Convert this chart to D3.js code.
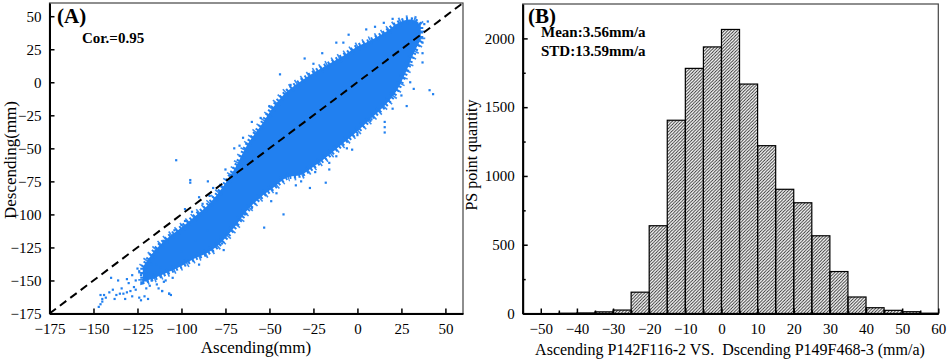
<!DOCTYPE html>
<html>
<head>
<meta charset="utf-8">
<script src="https://cdn.jsdelivr.net/npm/d3@7"></script>
<style>
  body { margin: 0; background: #fff; }
  svg { display: block; font-family: "Liberation Serif", "Times New Roman", serif; }
  .label { white-space: pre; }
</style>
</head>
<body>
<svg id="chart" width="948" height="359"></svg>
<script>
// ---- panel A data ----
const scatterTicks = [-175, -150, -125, -100, -75, -50, -25, 0, 25, 50];

// dense core of the point cloud: ascending value, lower / upper descending bound
const coreAsc   = [-122, -115, -108, -100, -92, -85, -78, -70, -62, -55, -48, -40, -32, -24, -16, -8, 0, 8, 16, 22, 27, 32, 36];
const coreUpper = [-140, -127, -118, -110, -101, -93, -82, -66, -46, -33, -19, -7, 1, 8, 14, 20, 27, 32, 38, 44, 47, 47, 43];
const coreLower = [-151, -148, -144, -139, -133, -129, -122, -110, -96, -87, -80, -72, -70, -63, -55, -46, -37, -27, -17, -7, 6, 22, 32];

// scattered points outside the core
const sparseAsc = [
  -147, -146, -145, -146, -144, -145, -143, -141, -139, -137, -135, -133, -131, -129, -134, -128, -126, -124,
  -123, -121, -122, -120, -118, -116, -115, -113, -111, -110, -107, -108, -105, -112, -117, -119, -125, -123,
  -140, -136, -130, -138, -132, -119, -111, -106,
  -124, -121, -118, -114, -112, -109, -117, -120, -114, -126, -128, -131, -127,
  -98, -94, -88, -84, -82, -104, -110, -115,
  -103, -95, -95, -85, -100, -108, -107, -67, -75, -72, -53, -42, -27, -18, -16, -16, -3, 15.5, 15.5, 15.5,
  41, 43, 28, 37, 37, 37, 34, 34, -12, -44, -38, -78, -77, -76, -60, -64, -46, -49, -35, -55, -60, -50, -65,
  -70, -25, -30, -20, -8, 5, 10, 15, 20, -5, 40, 38, 30, 32, 25, 20, 8, 0, -6, -12, -24, -32, -90, -98, -104,
  -110, -115, -85, -80, -92, -100, -96, -90
];
const sparseDesc = [
  -170, -168, -166, -161, -161, -164, -163, -159, -157, -161, -160, -160, -159, -158, -156, -162, -157, -163,
  -165, -162, -152, -150, -154, -148, -144, -156, -158, -151, -160, -143, -148, -140, -138, -145, -141, -146,
  -148, -150, -152, -164, -164, -164, -158, -161,
  -143, -140, -135, -138, -146, -150, -150, -156, -153, -150, -146, -149, -155,
  -105, -98, -92, -86, -80, -115, -120, -128,
  -59, -74, -76, -75, -108, -143, -160, -48, -66, -70, -110, -100, -80, -76, -66, -61, -51, -30, -34, -38,
  -6, -9, -18, 30, 22, 15, 45, 38, 30, 6, -2, -117, -122, -127, -95, -100, -84, -90, -78, -27, -30, -18, -42,
  -50, 14, 18, 22, 30, 40, 42, 45, 48, 36, 46, 44, 0, -5, -10, -20, -28, -40, -50, -56, -68, -75, -87, -96, -112,
  -125, -132, -112, -120, -120, -128, -135, -138
];

// ---- panel B data ----
const binStart = [-45, -40, -35, -30, -25, -20, -15, -10, -5, 0, 5, 10, 15, 20, 25, 30, 35, 40, 45, 50, 55];
const binCount = [2, 4, 12, 25, 155, 638, 1405, 1782, 1938, 2065, 1668, 1220, 903, 805, 565, 305, 120, 42, 23, 13, 2];
const histXTicks = [-50, -40, -30, -20, -10, 0, 10, 20, 30, 40, 50, 60];
const histYTicks = [0, 500, 1000, 1500, 2000];
const binWidth = 5;

const svg = d3.select("#chart");
const blue = "#2180f0";

// ================= Panel A =================
const ax = d3.scaleLinear().domain([-175, 60]).range([49.5, 463]);
const ay = d3.scaleLinear().domain([-175, 60]).range([313.5, 3]);
const gA = svg.append("g");

// frame
gA.append("rect")
    .attr("x", ax(-175)).attr("y", ay(60))
    .attr("width", ax(60) - ax(-175)).attr("height", ay(-175) - ay(60))
    .attr("fill", "none").attr("stroke", "#444").attr("stroke-width", 1.2);

// point cloud core, with a dotted rim so the edge looks speckled
const coreArea = d3.area().x(d => ax(d.a)).y0(d => ay(d.lo)).y1(d => ay(d.hi)).curve(d3.curveCatmullRom);
const coreData = coreAsc.map((a, i) => ({a, lo: coreLower[i], hi: coreUpper[i]}));
gA.append("path")
    .datum(coreData)
    .attr("d", coreArea)
    .attr("fill", blue)
    .attr("stroke", blue).attr("stroke-width", 5)
    .attr("stroke-dasharray", "2,2.5");
gA.append("path")
    .datum(coreData)
    .attr("d", coreArea)
    .attr("fill", "none")
    .attr("stroke", blue).attr("stroke-width", 9).attr("stroke-opacity", 0.9)
    .attr("stroke-dasharray", "1.6,5.5");

// sparse points
gA.append("g")
    .selectAll("rect")
    .data(sparseAsc.map((a, i) => [a, sparseDesc[i]]))
    .enter().append("rect")
    .attr("x", d => ax(d[0]) - 1.1)
    .attr("y", d => ay(d[1]) - 1.1)
    .attr("width", 2.2).attr("height", 2.2)
    .attr("fill", blue);

// 1:1 line
gA.append("line")
    .attr("x1", ax(-175)).attr("y1", ay(-175))
    .attr("x2", ax(60)).attr("y2", ay(60))
    .attr("stroke", "#000").attr("stroke-width", 2)
    .attr("stroke-dasharray", "8,5");

// axes (ticks inward)
gA.append("g")
    .attr("transform", `translate(0,${ay(-175)})`)
    .call(d3.axisBottom(ax).tickValues(scatterTicks).tickSize(-5).tickPadding(10).tickSizeOuter(0))
    .call(g => g.selectAll("text").attr("font-size", 15).attr("font-family", "Liberation Serif").attr("fill", "#000"));
gA.append("g")
    .attr("transform", `translate(${ax(-175)},0)`)
    .call(d3.axisLeft(ay).tickValues(scatterTicks).tickSize(-5).tickPadding(8).tickSizeOuter(0))
    .call(g => g.selectAll("text").attr("font-size", 15).attr("font-family", "Liberation Serif").attr("fill", "#000"));
gA.selectAll(".domain").attr("stroke", "#000").attr("stroke-width", 2);
gA.selectAll(".tick line").attr("stroke", "#000").attr("stroke-width", 1.5);

gA.append("text").attr("x", 57).attr("y", 23)
    .attr("font-size", 21).attr("font-weight", "bold").text("(A)");
gA.append("text").attr("x", 82).attr("y", 43)
    .attr("font-size", 15).attr("font-weight", "bold").text("Cor.=0.95");
gA.append("text").attr("x", 256).attr("y", 353).attr("text-anchor", "middle")
    .attr("font-size", 17).text("Ascending(mm)");
gA.append("text").attr("transform", "translate(16,160) rotate(-90)").attr("text-anchor", "middle")
    .attr("font-size", 17).text("Descending(mm)");

// ================= Panel B =================
const bx = d3.scaleLinear().domain([-55, 60]).range([522.7, 938.3]);
const by = d3.scaleLinear().domain([0, 2250]).range([313.5, 4]);
const gB = svg.append("g");

const defs = svg.append("defs");
defs.append("pattern")
    .attr("id", "hatch").attr("patternUnits", "userSpaceOnUse")
    .attr("width", 3.2).attr("height", 3.2)
    .append("path")
    .attr("d", "M-0.8,0.8 l1.6,-1.6 M0,3.2 l3.2,-3.2 M2.4,4 l1.6,-1.6")
    .attr("stroke", "#222").attr("stroke-width", 0.9);

gB.append("rect")
    .attr("x", bx(-55)).attr("y", by(2250))
    .attr("width", bx(60) - bx(-55)).attr("height", by(0) - by(2250))
    .attr("fill", "none").attr("stroke", "#444").attr("stroke-width", 1.2);

gB.append("g")
    .selectAll("rect")
    .data(binStart.map((s, i) => ({s, c: binCount[i]})))
    .enter().append("rect")
    .attr("x", d => bx(d.s))
    .attr("y", d => by(d.c))
    .attr("width", d => bx(d.s + binWidth) - bx(d.s))
    .attr("height", d => by(0) - by(d.c))
    .attr("fill", "url(#hatch)")
    .attr("stroke", "#000").attr("stroke-width", 1.2);

// minor ticks
gB.append("g")
    .attr("transform", `translate(${bx(-55)},0)`)
    .call(d3.axisLeft(by).tickValues(d3.range(250, 2250, 500)).tickSize(-3).tickFormat(""))
    .call(g => g.select(".domain").remove());
gB.append("g")
    .attr("transform", `translate(0,${by(0)})`)
    .call(d3.axisBottom(bx).tickValues(d3.range(-55, 60, 10)).tickSize(-3).tickFormat(""))
    .call(g => g.select(".domain").remove());

gB.append("g")
    .attr("transform", `translate(0,${by(0)})`)
    .call(d3.axisBottom(bx).tickValues(histXTicks).tickSize(-5).tickPadding(10).tickSizeOuter(0))
    .call(g => g.selectAll("text").attr("font-size", 15).attr("font-family", "Liberation Serif").attr("fill", "#000"));
gB.append("g")
    .attr("transform", `translate(${bx(-55)},0)`)
    .call(d3.axisLeft(by).tickValues(histYTicks).tickFormat(d3.format("d")).tickSize(-5).tickPadding(8).tickSizeOuter(0))
    .call(g => g.selectAll("text").attr("font-size", 15).attr("font-family", "Liberation Serif").attr("fill", "#000"));
gB.selectAll(".domain").attr("stroke", "#000").attr("stroke-width", 2);
gB.selectAll(".tick line").attr("stroke", "#000").attr("stroke-width", 1.5);

gB.append("text").attr("x", 528).attr("y", 23)
    .attr("font-size", 21).attr("font-weight", "bold").text("(B)");
gB.append("text").attr("x", 541).attr("y", 37)
    .attr("font-size", 15).attr("font-weight", "bold").text("Mean:3.56mm/a");
gB.append("text").attr("x", 541).attr("y", 56)
    .attr("font-size", 15).attr("font-weight", "bold").text("STD:13.59mm/a");
gB.append("text").attr("class", "label").attr("x", 730).attr("y", 355).attr("text-anchor", "middle")
    .attr("font-size", 16).text("Ascending P142F116-2 VS.  Dscending P149F468-3 (mm/a)");
gB.append("text").attr("transform", "translate(477,155) rotate(-90)").attr("text-anchor", "middle")
    .attr("font-size", 16).text("PS point quantity");
</script>
</body>
</html>
